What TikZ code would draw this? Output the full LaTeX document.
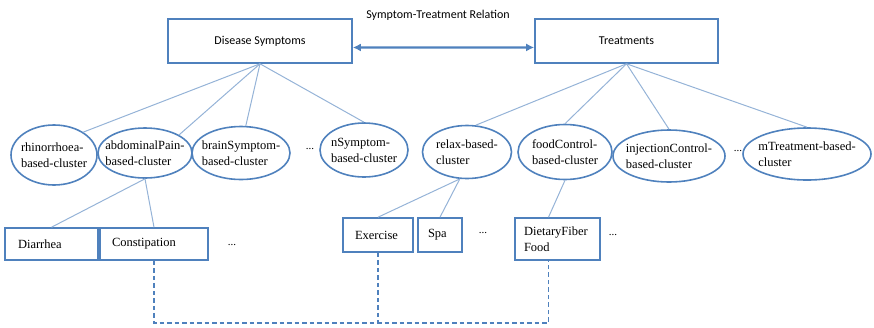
\documentclass[tikz,border=0pt]{standalone}
\usepackage{fontspec}
\setmainfont{Liberation Serif}
\newfontfamily\headfont{Carlito}
\usetikzlibrary{arrows.meta,shapes.geometric,calc}
\definecolor{edgeblue}{HTML}{4F81BD}
\definecolor{twigblue}{HTML}{95B3D7}
\begin{document}
\begin{tikzpicture}[x=1pt,y=-1pt,
  headtext/.style={font=\headfont\fontsize{12}{14}\selectfont},
  topbox/.style={draw=edgeblue,line width=1.6pt,minimum width=#1,minimum height=44pt,
    inner sep=0pt,headtext},
  cluster/.style={ellipse,draw=edgeblue,line width=1.6pt,inner sep=0pt},
  cltext/.style={font=\fontsize{12.5}{16}\selectfont,align=left,inner sep=0pt},
  leaf/.style={draw=edgeblue,line width=1.6pt,inner ysep=0pt,
    font=\fontsize{12.5}{16}\selectfont,align=left},
  twig/.style={draw=twigblue,line width=1pt},
  link/.style={draw=edgeblue,line width=1.4pt,dash pattern=on 4.5pt off 3pt},
  dots/.style={font=\fontsize{11}{12}\selectfont,inner sep=0pt}]
\useasboundingbox (0,0) rectangle (874,327);

% top level
\node[topbox=184pt] (ds) at (260,41) {Disease Symptoms};
\node[topbox=183pt] (tr) at (626.5,41) {Treatments};
\node[headtext,inner sep=0pt] (rel) at (438,15) {Symptom-Treatment Relation};
\draw[edgeblue,line width=2.4pt,{Latex[length=8pt,width=8pt]}-{Latex[length=8pt,width=8pt]}]
  (ds.-4) -- (tr.184);

% symptom clusters
\node[cluster,minimum width=86pt,minimum height=60pt,
  label={[cltext]center:{rhinorrhoea-\\based-cluster}}] (rh) at (54,155) {};
\node[cluster,minimum width=94pt,minimum height=50pt,
  label={[cltext]center:{abdominalPain-\\based-cluster}}] (ab) at (145,153) {};
\node[cluster,minimum width=98pt,minimum height=53pt,
  label={[cltext]center:{brainSymptom-\\based-cluster}}] (br) at (241,153) {};
\node[dots] (sd) at (310,149) {...};
\node[cluster,minimum width=88pt,minimum height=54pt,
  label={[cltext]center:{nSymptom-\\based-cluster}}] (ns) at (364,150) {};

% treatment clusters
\node[cluster,minimum width=89pt,minimum height=53pt,
  label={[cltext]center:{relax-based-\\cluster}}] (rl) at (467,152) {};
\node[cluster,minimum width=94pt,minimum height=55pt,
  label={[cltext]center:{foodControl-\\based-cluster}}] (fc) at (565,152) {};
\node[cluster,minimum width=112pt,minimum height=52pt,
  label={[cltext]center:{injectionControl-\\based-cluster}}] (ic) at (669,156) {};
\node[dots] (td) at (738,151) {...};
\node[cluster,minimum width=128pt,minimum height=52pt,
  label={[cltext]center:{mTreatment-based-\\cluster}}] (mt) at (807,154) {};

% leaves
\node[leaf,inner xsep=13pt,text width=67pt,minimum height=32pt] (dia) at (51.5,244) {Diarrhea};
\node[leaf,inner xsep=12pt,text width=84pt,minimum height=32pt] (con) at (154,244) {Constipation};
\node[dots] (ld) at (232,245) {...};
\node[leaf,inner xsep=12pt,text width=46pt,minimum height=34pt] (ex) at (378,235) {Exercise};
\node[leaf,inner xsep=10pt,text width=24pt,minimum height=34pt] (spa) at (440,235) {Spa};
\node[dots] (xd) at (483,233) {...};
\node[leaf,inner xsep=9pt,text width=67pt,minimum height=42pt] (df) at (557.5,239) {DietaryFiber\\Food};
\node[dots] (fd) at (613,235) {...};

% tree edges
\draw[twig] (ds.south) -- (rh.38);
\draw[twig] (ds.south) -- (ab.28);
\draw[twig] (ds.south) -- (br.80);
\draw[twig] (ds.south) -- (ns.north);
\draw[twig] (tr.south) -- (rl.72);
\draw[twig] (tr.south) -- (fc.north);
\draw[twig] (tr.south) -- (ic.north);
\draw[twig] (tr.south) -- (mt.north);
\draw[twig] (ab.south) -- (dia.north);
\draw[twig] (ab.south) -- (con.north);
\draw[twig] (rl.-105) -- (ex.north);
\draw[twig] (rl.-105) -- (spa.north);
\coordinate (dft) at ($(df.north)+(-9,0)$);
\coordinate (dfb) at ($(df.south)+(-9,0)$);
\draw[twig] (fc.south) -- (dft);

% relation links between symptoms and treatments
\coordinate (bus) at ($(dfb)+(0,62)$);
\draw[link] (con.south) |- (bus) -- (dfb);
\draw[link] (ex.south) -- (ex.south |- bus);
\end{tikzpicture}
\end{document}
